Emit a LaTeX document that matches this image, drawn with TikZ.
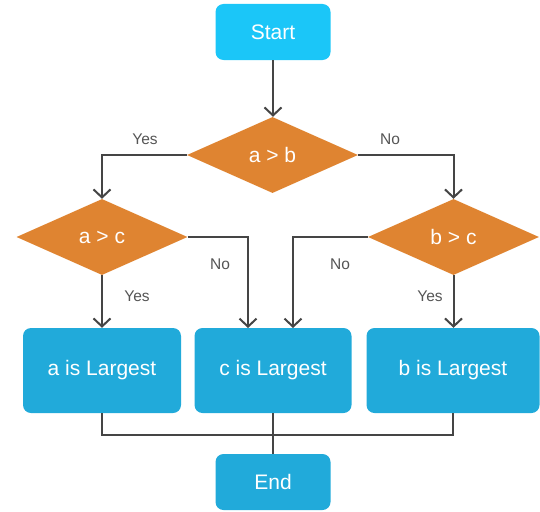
\documentclass[tikz,border=0pt]{standalone}
\usepackage{fontspec}
\setmainfont{Liberation Sans}
\usetikzlibrary{shapes.geometric,arrows.meta,calc}
\definecolor{startc}{HTML}{1BC6F8}
\definecolor{boxc}{HTML}{21AADA}
\definecolor{dec}{HTML}{DF8431}
\definecolor{linec}{HTML}{454545}
\definecolor{labc}{HTML}{555555}
\tikzset{
  every node/.style={font=\fontsize{21}{25}\selectfont},
  stepbox/.style={rectangle, rounded corners=8pt, fill=boxc, text=white, inner sep=0pt, minimum height=85pt},
  termbox/.style={rectangle, rounded corners=8pt, fill=boxc, text=white, inner sep=0pt, minimum width=115pt, minimum height=56pt},
  decbox/.style={diamond, fill=dec, text=white, inner sep=0pt, minimum width=171pt, minimum height=76pt},
  conn/.style={draw=linec, line width=2pt, -{Straight Barb[length=8pt,width=17pt,line width=2pt]}},
  plain/.style={draw=linec, line width=2pt},
  lab/.style={text=labc, font=\fontsize{15.5}{18}\selectfont}
}
\begin{document}
\begin{tikzpicture}[x=1pt,y=-1pt]
\useasboundingbox (0,0) rectangle (540,511);
\node[termbox, fill=startc] (start) at (273,32) {Start};
\node[decbox] (ab) at (272.5,155) {a > b};
\node[decbox] (ac) at (102,237) {a > c};
\node[decbox] (bc) at (453.5,237) {b > c};
\node[stepbox, minimum width=158pt] (abox) at (102,370.5) {a is Largest};
\node[stepbox, minimum width=157pt] (cbox) at (273,370.5) {c is Largest};
\node[stepbox, minimum width=173pt] (bbox) at (453,370.5) {b is Largest};
\node[termbox] (end) at (273,482) {End};
\coordinate (cin1) at (248,328);
\coordinate (cin2) at (293,328);
\coordinate (jl) at (102,435);
\coordinate (jr) at (453,435);
\coordinate (jc) at (273,435);

\draw[conn] (start.south) -- (start.south |- ab.north);
\draw[conn] (ab.west) -| (ac.north);
\draw[conn] (ab.east) -| (bc.north);
\draw[conn] (ac.south) -- (ac.south |- abox.north);
\draw[conn] (ac.east) -| (cin1);
\draw[conn] (bc.west) -| (cin2);
\draw[conn] (bc.south) -- (bc.south |- bbox.north);
\draw[plain] (abox.south) -- (jl) -- (jr) -- (bbox.south);
\draw[plain] (cbox.south) -- (jc) -- (end.north);

\node[lab] (l1) at (145,139) {Yes};
\node[lab] (l2) at (390,139) {No};
\node[lab] (l3) at (220,264) {No};
\node[lab] (l4) at (137,296) {Yes};
\node[lab] (l5) at (340,264) {No};
\node[lab] (l6) at (430,296) {Yes};
\end{tikzpicture}
\end{document}
